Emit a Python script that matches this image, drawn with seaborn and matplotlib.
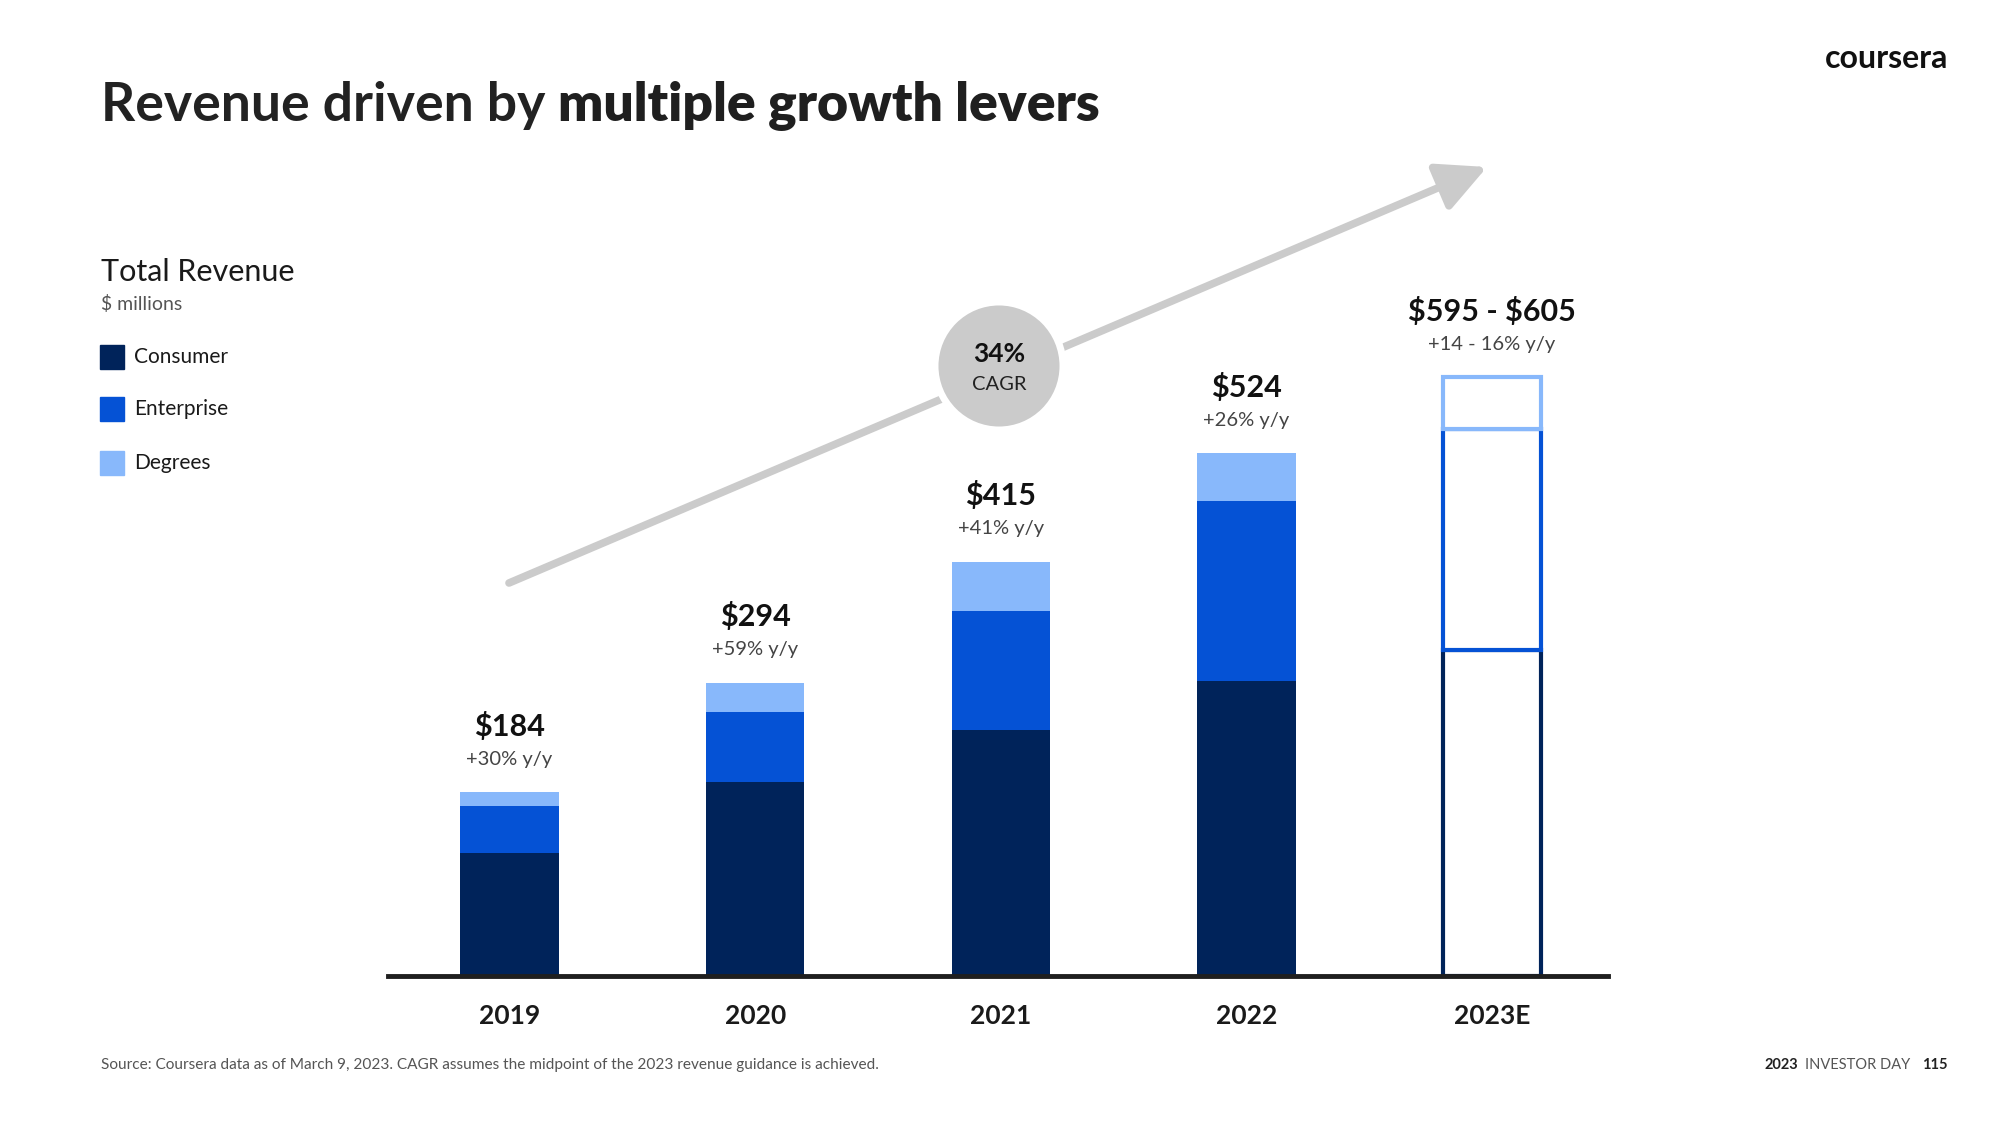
import matplotlib
matplotlib.use("Agg")
import matplotlib.pyplot as plt
import matplotlib.patches as mpatches
import seaborn as sns
import pandas as pd

# values, $ millions
years = ["2019", "2020", "2021", "2022", "2023E"]
consumer = [123, 194, 247, 296, 327]
enterprise = [47, 71, 119, 180, 221]
degrees = [14, 29, 49, 48, 52]
value_labels = [r"\$184", r"\$294", r"\$415", r"\$524", r"\$595 - \$605"]
growth_labels = ["+30% y/y", "+59% y/y", "+41% y/y", "+26% y/y", "+14 - 16% y/y"]

C_CONS = "#00235a"
C_ENT = "#0552d5"
C_DEG = "#88b8fb"

sns.set_theme(style="white")
plt.rcParams["font.family"] = ["Lato", "DejaVu Sans"]

df = pd.DataFrame({"year": years, "consumer": consumer,
                   "enterprise": enterprise, "degrees": degrees})
df["ce"] = df["consumer"] + df["enterprise"]
df["total"] = df["ce"] + df["degrees"]
actual = df[df["year"] != "2023E"]
est = df[df["year"] == "2023E"].iloc[0]

fig = plt.figure(figsize=(20, 11.25), dpi=100)
ax = fig.add_axes([0.194, 0.1324, 0.61, 0.7097])
ax.set_facecolor("none")

# stacked bars for reported years, drawn as cumulative layers
for col, c in [("total", C_DEG), ("ce", C_ENT), ("consumer", C_CONS)]:
    sns.barplot(data=actual, x="year", y=col, order=years, color=c,
                width=0.4, saturation=1, linewidth=0, ax=ax, zorder=2)

# 2023E guidance drawn as outlined segments
i23 = years.index("2023E")
bottom = 0
for seg, c in [("consumer", C_CONS), ("enterprise", C_ENT), ("degrees", C_DEG)]:
    ax.bar(i23, est[seg], bottom=bottom, width=0.4, facecolor="white",
           edgecolor=c, linewidth=3, zorder=3)
    bottom += est[seg]

ax.set_xlim(-0.495, 4.472)
ax.set_ylim(0, 800)
ax.set_xlabel("")
ax.set_ylabel("")
ax.set_yticks([])
for s in ["top", "right", "left"]:
    ax.spines[s].set_visible(False)
ax.spines["bottom"].set_color("#1f1f1f")
ax.spines["bottom"].set_linewidth(3.5)
ax.spines["bottom"].set_zorder(5)
ax.tick_params(axis="x", length=0, pad=20)
for t in ax.get_xticklabels():
    t.set_fontsize(19)
    t.set_fontweight("bold")
    t.set_color("#1a1a1a")

for i, row in df.iterrows():
    ax.annotate(value_labels[i], (i, row["total"]), xytext=(0, 66),
                textcoords="offset pixels", ha="center", va="center",
                fontsize=22, fontweight="bold", color="#111111")
    ax.annotate(growth_labels[i], (i, row["total"]), xytext=(0, 33),
                textcoords="offset pixels", ha="center", va="center",
                fontsize=14.5, color="#444444")

# decoration layer in pixel space, behind the bars
deco = fig.add_axes([0, 0, 1, 1], zorder=-1)
deco.set_xlim(0, 2000)
deco.set_ylim(1125, 0)
deco.axis("off")
arrow = mpatches.FancyArrowPatch((509, 583), (1487, 167),
                                 arrowstyle=mpatches.ArrowStyle("-|>", head_length=1.5, head_width=0.75),
                                 mutation_scale=20, color="#cbcbcb", linewidth=5.5,
                                 shrinkA=0, shrinkB=0)
deco.add_patch(arrow)
deco.add_patch(mpatches.Circle((999, 366), 64, facecolor="#cbcbcb",
                               edgecolor="white", linewidth=5, zorder=3))
deco.text(999, 354, "34%", ha="center", va="center", fontsize=19,
          fontweight="bold", color="#111111", zorder=4)
deco.text(999, 384, "CAGR", ha="center", va="center", fontsize=14.5,
          color="#222222", zorder=4)

# title, two weights
r = fig.canvas.get_renderer()
t1 = fig.text(101 / 2000, 1 - 106 / 1125, "Revenue driven by ", fontsize=38.5,
              fontweight="bold", color="#222222", va="center")
w = t1.get_window_extent(renderer=r).width
fig.text((101 + w) / 2000, 1 - 106 / 1125, "multiple growth levers", fontsize=38.5,
         fontweight="heavy", color="#1f1f1f", va="center")

# legend block
fig.text(101 / 2000, 1 - 272 / 1125, "Total Revenue", fontsize=22,
         color="#1a1a1a", va="center")
fig.text(101 / 2000, 1 - 304 / 1125, r"\$ millions", fontsize=14,
         color="#555555", va="center")
for name, c, yy in [("Consumer", C_CONS, 357), ("Enterprise", C_ENT, 409),
                    ("Degrees", C_DEG, 463)]:
    deco.add_patch(mpatches.Rectangle((100, yy - 12), 24, 24, color=c))
    deco.text(134, yy, name, fontsize=15, color="#1a1a1a", va="center")

# logo and footer
fig.text(1948 / 2000, 1 - 59 / 1125, "coursera", fontsize=23, fontweight="bold",
         color="#111111", ha="right", va="center")
fig.text(101 / 2000, 1 - 1065 / 1125,
         "Source: Coursera data as of March 9, 2023. CAGR assumes the midpoint of the 2023 revenue guidance is achieved.",
         fontsize=11.1, color="#555555", va="center")
fig.text(1948 / 2000, 1 - 1065 / 1125, "115", fontsize=10.5, fontweight="bold",
         color="#222222", ha="right", va="center")
fig.text(1910 / 2000, 1 - 1065 / 1125, "INVESTOR DAY", fontsize=10.5,
         color="#555555", ha="right", va="center")
fig.text(1798 / 2000, 1 - 1065 / 1125, "2023", fontsize=10.5, fontweight="bold",
         color="#222222", ha="right", va="center")

fig.savefig("out.png", dpi=100, facecolor="white")
